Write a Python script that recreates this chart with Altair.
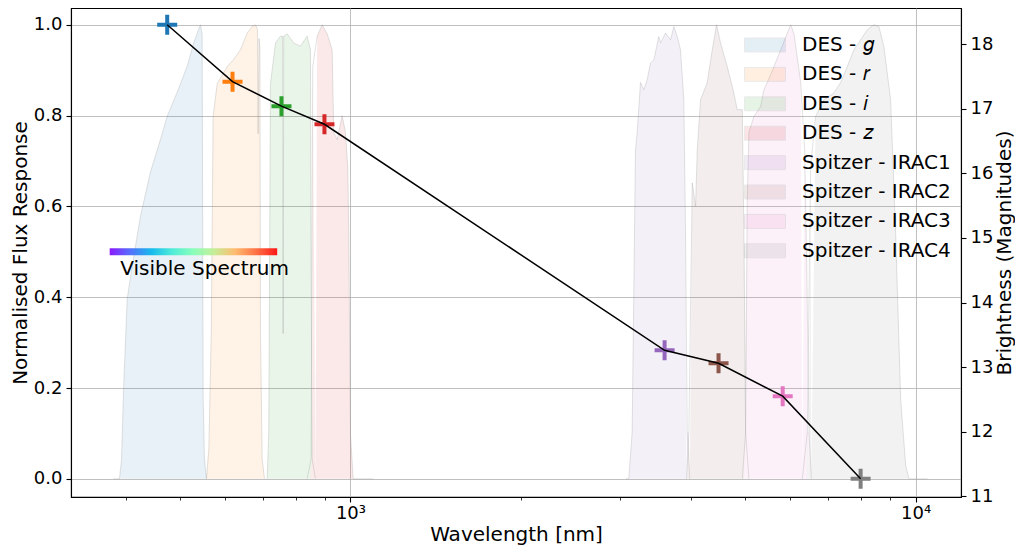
import altair as alt
import pandas as pd

# ---------------- data ----------------
bands = ["DES - 𝑔", "DES - 𝑟", "DES - 𝑖", "DES - 𝑧",
         "Spitzer - IRAC1", "Spitzer - IRAC2", "Spitzer - IRAC3", "Spitzer - IRAC4"]
band_colors = ["#1f77b4", "#ff7f0e", "#2ca02c", "#d62728",
               "#9467bd", "#8c564b", "#e377c2", "#7f7f7f"]

des_g_wl = [380.6, 390.2, 393.4, 397.2, 402.7, 410.9, 425.0, 442.6, 461.0, 473.8,
            493.5, 514.0, 528.0, 538.3, 542.7, 546.5, 548.8, 551.7, 556.2]
des_g_resp = [0, 0, 0.04, 0.213, 0.396, 0.468, 0.578, 0.675, 0.747, 0.798,
              0.851, 0.908, 0.96, 0.989, 1.0, 0.98, 0.176, 0.044, 0]

des_r_wl = [556.2, 561.6, 567.2, 571.5, 581.0, 605.2, 620.9, 638.9, 656.6, 669.9,
            679.1, 684.5, 686.5, 689.0, 691.5, 693.1, 697.9, 704.5]
des_r_resp = [0, 0.066, 0.323, 0.798, 0.87, 0.908, 0.923, 0.945, 0.982, 0.996,
              1.0, 0.99, 0.76, 0.97, 0.95, 0.323, 0.044, 0]

des_i_wl = [712.3, 716.9, 721.9, 736.8, 751.9, 758.5, 760.2, 762.0, 772.7, 793.6,
            815.6, 838.3, 849.6, 852.0, 855.5, 867.2]
des_i_resp = [0, 0.103, 0.87, 0.96, 0.975, 0.975, 0.32, 0.975, 0.98, 0.96,
              0.953, 0.975, 0.945, 0.47, 0.044, 0]

des_z_wl = [838.3, 852.0, 857.7, 873.2, 891.1, 909.6, 928.2, 934.2, 947.3, 966.7,
            979.9, 989.0, 993.1, 1000.0, 1011.0, 1098.0]
des_z_resp = [0, 0.044, 0.908, 0.975, 1.0, 0.98, 0.945, 0.763, 0.747, 0.8,
              0.763, 0.688, 0.543, 0.1, 0, 0]

irac1_wl = [3070, 3108, 3151, 3194, 3216, 3260, 3304, 3350, 3396, 3442, 3512, 3537,
            3610, 3685, 3734, 3786, 3837, 3889, 3916, 3943, 3985]
irac1_resp = [0, 0, 0.103, 0.725, 0.763, 0.873, 0.857, 0.879, 0.916, 0.923, 0.974, 0.96,
              0.982, 0.967, 0.996, 0.974, 0.945, 0.835, 0.543, 0.103, 0]

irac2_wl = [3932, 3970, 4025, 4080, 4108, 4164, 4279, 4367, 4444, 4517, 4642, 4768,
            4834, 4935, 4968, 5002, 5070]
irac2_resp = [0, 0.103, 0.652, 0.6, 0.725, 0.835, 0.873, 0.945, 1.0, 0.96, 0.908, 0.85,
              0.813, 0.813, 0.543, 0.103, 0]

irac3_wl = [4935, 5002, 5036, 5070, 5174, 5318, 5390, 5465, 5615, 5771, 5930, 6011,
            6092, 6261, 6363, 6416, 6476, 6539]
irac3_resp = [0, 0.103, 0.615, 0.763, 0.798, 0.82, 0.857, 0.873, 0.908, 0.945, 0.982, 1.0,
              0.98, 0.873, 0.725, 0.47, 0.103, 0]

irac4_wl = [6304, 6432, 6520, 6653, 6883, 7170, 7368, 7570, 7777, 7992, 8212, 8437,
            8611, 8788, 9031, 9217, 9408, 9601, 9730, 10500]
irac4_resp = [0, 0.103, 0.688, 0.798, 0.835, 0.85, 0.873, 0.908, 0.945, 0.967, 0.989, 1.0,
              0.996, 0.951, 0.835, 0.543, 0.176, 0.03, 0, 0]

# photometry points (effective wavelength, magnitude)
point_wl = [474, 618.5, 755, 899.5, 3596, 4480, 5818, 7992]
point_mag = [18.30, 17.42, 17.04, 16.76, 13.26, 13.06, 12.55, 11.27]

# visible spectrum annotation
visible_range = [375, 742]
visible_level = [0.5]
visible_label = ["Visible Spectrum"]
visible_label_pos = [552, 0.463]

x_ticks = [400, 500, 600, 700, 800, 900, 1000, 2000, 3000, 4000, 5000,
           6000, 7000, 8000, 9000, 10000]
y_ticks = [0.0, 0.2, 0.4, 0.6, 0.8, 1.0]
mag_ticks = [11, 12, 13, 14, 15, 16, 17, 18]

# ---------------- tables ----------------
curves = [(des_g_wl, des_g_resp), (des_r_wl, des_r_resp), (des_i_wl, des_i_resp),
          (des_z_wl, des_z_resp), (irac1_wl, irac1_resp), (irac2_wl, irac2_resp),
          (irac3_wl, irac3_resp), (irac4_wl, irac4_resp)]
frames = []
for name, (wl, rs) in zip(bands, curves):
    frames.append(pd.DataFrame({"Filter": name, "wl": wl, "resp": rs}))
filters = pd.concat(frames, ignore_index=True)

points = pd.DataFrame({"Filter": bands, "wl": point_wl, "mag": point_mag})
spec = pd.DataFrame({"wl": [visible_range[0]], "wl2": [visible_range[1]],
                     "resp": visible_level})
label_df = pd.DataFrame({"wl": [visible_label_pos[0]], "resp": [visible_label_pos[1]],
                         "text": visible_label})

# ---------------- encodings ----------------
major = "datum.value === 1000 || datum.value === 10000"
x_enc = alt.X(
    "wl:Q",
    scale=alt.Scale(type="log", domain=[320.3, 12030], nice=False),
    axis=alt.Axis(
        values=x_ticks,
        title="Wavelength [nm]",
        labelExpr="datum.value === 1000 ? '10³' : (datum.value === 10000 ? '10⁴' : '')",
        tickSize={"condition": {"test": major, "value": 5}, "value": 3},
        tickWidth={"condition": {"test": major, "value": 1.1}, "value": 0.8},
        grid=True,
        gridOpacity={"condition": {"test": major, "value": 1}, "value": 0},
        labelFlush=False,
        labelOverlap=False,
        labelPadding=2,
        titlePadding=2,
    ),
)
y_left = alt.Y(
    "resp:Q",
    scale=alt.Scale(domain=[-0.04, 1.037], nice=False, zero=False),
    axis=alt.Axis(values=y_ticks, format=".1f", title="Normalised Flux Response",
                  grid=True, titlePadding=3),
)
y_right = alt.Y(
    "mag:Q",
    scale=alt.Scale(domain=[10.989, 18.56], nice=False, zero=False),
    axis=alt.Axis(values=mag_ticks, orient="right", title="Brightness (Magnitudes)",
                  grid=False, titleAngle=270, titleBaseline="top", titlePadding=2),
)
fill_scale = alt.Scale(domain=bands, range=band_colors)

areas = alt.Chart(filters).mark_area(fillOpacity=0.1, strokeWidth=0).encode(
    x=x_enc, y=y_left,
    fill=alt.Fill("Filter:N", scale=fill_scale, sort=bands, legend=alt.Legend(
        title=None, orient="none", legendX=673, legendY=27, padding=0,
        symbolType="M-1,-0.34L1,-0.34L1,0.34L-1,0.34Z", symbolSize=1681,
        symbolOpacity=0.12, symbolStrokeColor="#555555", symbolStrokeWidth=1,
        labelFontSize=20, labelColor="black", labelFont="DejaVu Sans",
        clipHeight=20, rowPadding=9.4, labelOffset=16, symbolOffset=0)),
)
edges = alt.Chart(filters).mark_line(color="#8c8c8c", strokeWidth=1, opacity=0.25).encode(
    x=x_enc, y=y_left, detail="Filter:N",
)
gradient = {
    "gradient": "linear", "x1": 0, "x2": 1, "y1": 0, "y2": 0,
    "stops": [
        {"offset": 0.0, "color": "#8000ff"},
        {"offset": 0.125, "color": "#4062fa"},
        {"offset": 0.25, "color": "#00b5eb"},
        {"offset": 0.375, "color": "#40ecd4"},
        {"offset": 0.5, "color": "#80ffb4"},
        {"offset": 0.625, "color": "#c0ec8e"},
        {"offset": 0.75, "color": "#ffb562"},
        {"offset": 0.875, "color": "#ff6232"},
        {"offset": 1.0, "color": "#ff0000"},
    ],
}
spectrum = alt.Chart(spec).mark_rect(height=7, fill=gradient, opacity=0.9).encode(
    x=x_enc, x2="wl2:Q", y=y_left,
)
text = alt.Chart(label_df).mark_text(fontSize=20, align="center", baseline="middle",
                                     color="black", font="DejaVu Sans").encode(
    x=x_enc, y=y_left, text="text:N",
)
left = alt.layer(areas, edges, spectrum, text)

markers = alt.Chart(points).mark_point(shape="M-1,0L1,0M0,-1L0,1", size=400, strokeWidth=4,
                                       filled=False, opacity=1, strokeCap="butt").encode(
    x=x_enc, y=y_right,
    stroke=alt.Stroke("Filter:N", scale=fill_scale, sort=bands, legend=None),
)
sed = alt.Chart(points).mark_line(color="black", strokeWidth=1.5).encode(
    x=x_enc, y=y_right,
)
right = alt.layer(markers, sed)

chart = alt.layer(left, right).resolve_scale(y="independent", fill="independent",
                                               stroke="independent").properties(
    width=890, height=489,
    autosize=alt.AutoSizeParams(type="none"),
    padding={"left": 63, "top": 0, "right": 54, "bottom": 49},
).configure(font="DejaVu Sans").configure_view(
    stroke="black", strokeWidth=1.1
).configure_axis(
    domainColor="black", domainWidth=1.1, tickColor="black", tickWidth=1.1, tickSize=5,
    labelFontSize=18, labelColor="black", labelPadding=4, labelFont="DejaVu Sans",
    titleFontSize=20, titleFontWeight="normal", titleColor="black", titleFont="DejaVu Sans",
    gridColor="#b0b0b0", gridWidth=0.8,
)

chart.save("out.html", embed_options={"renderer": "svg", "actions": False})
